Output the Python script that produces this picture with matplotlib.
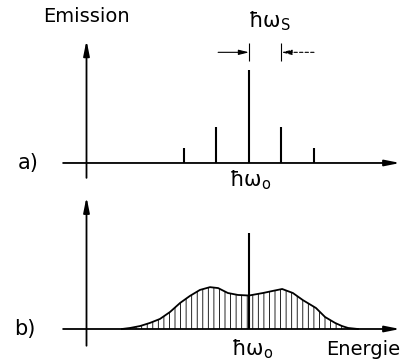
import matplotlib
matplotlib.use("Agg")
import matplotlib.pyplot as plt

plt.rcParams.update({
    "font.family": "DejaVu Sans",
    "mathtext.fontset": "dejavusans",
    "hatch.linewidth": 0.6,
    "hatch.color": "black",
})

# a) discrete emission lines, energy in units of hbar*omega_s relative to hbar*omega_0
line_pos = [-2, -1, 0, 1, 2]
line_height = [0.16, 0.39, 1.0, 0.39, 0.16]

# b) broadened band plus central line
band_e = [-3.91, -3.66, -3.35, -3.05, -2.74, -2.43, -2.12, -1.82, -1.51, -1.2,
          -0.95, -0.65, -0.34, 0.0, 0.43, 0.74, 1.02, 1.35, 1.66, 2.06, 2.34,
          2.65, 2.86, 3.05, 3.35]
band_i = [0.0, 0.011, 0.032, 0.065, 0.108, 0.183, 0.28, 0.355, 0.42, 0.45,
          0.44, 0.387, 0.366, 0.36, 0.387, 0.41, 0.43, 0.387, 0.31, 0.226, 0.129,
          0.065, 0.032, 0.011, 0.0]
center_height = 1.03

XLIM = (-249 / 32.5, 153 / 32.5)
YAX = -5.0

fig = plt.figure(figsize=(4.02, 3.63), dpi=100)
ax1 = fig.add_axes([0, 0.4904, 1, 0.5096])
ax2 = fig.add_axes([0, 0, 1, 0.4904])
ax1.set_xlim(*XLIM)
ax1.set_ylim(-0.2366, 1.7527)
ax2.set_xlim(*XLIM)
ax2.set_ylim(-0.3656, 1.5484)
for ax in (ax1, ax2):
    ax.axis("off")

arrow_kw = dict(arrowstyle="-|>,head_length=0.9,head_width=0.18", lw=1.3,
                color="black", shrinkA=0, shrinkB=0)

# axes with arrows
ax1.annotate("", xy=(YAX, 1.32), xytext=(YAX, -0.16), arrowprops=arrow_kw)
ax1.annotate("", xy=(4.65, 0), xytext=(-5.72, 0), arrowprops=arrow_kw)
ax2.annotate("", xy=(YAX, 1.42), xytext=(YAX, -0.18), arrowprops=arrow_kw)
ax2.annotate("", xy=(4.65, 0), xytext=(-5.72, 0), arrowprops=arrow_kw)

hw_s = r"$\mathregular{ħω_S}$"
hw_o = r"$\mathregular{ħω_o}$"

# panel a
ax1.vlines(line_pos, 0, line_height, color="black", lw=1.5)
ax1.vlines([0, 1], 1.10, 1.29, color="black", lw=0.8)
small_kw = dict(arrowstyle="-|>,head_length=0.6,head_width=0.15", lw=0.8,
                color="black", shrinkA=0, shrinkB=0)
ax1.annotate("", xy=(0, 1.19), xytext=(-0.95, 1.19), arrowprops=small_kw)
ax1.annotate("", xy=(1, 1.19), xytext=(2.0, 1.19),
             arrowprops=dict(small_kw, linestyle=(0, (3, 2))))
ax1.text(0.62, 1.52, hw_s, fontsize=15, ha="center", va="center")
ax1.text(0.05, -0.18, hw_o, fontsize=15, ha="center", va="center")
ax1.text(-5.0, 1.58, "Emission", fontsize=14, ha="center", va="center")
ax1.text(-6.8, 0.0, "a)", fontsize=15, ha="center", va="center")

# panel b
ax2.fill_between(band_e, 0, band_i, facecolor="none", edgecolor="black",
                 hatch="|||", lw=0)
ax2.plot(band_e, band_i, color="black", lw=1.3)
ax2.vlines([0], 0, center_height, color="black", lw=1.5)
ax2.text(0.1, -0.22, hw_o, fontsize=15, ha="center", va="center")
ax2.text(3.5, -0.22, "Energie", fontsize=14, ha="center", va="center")
ax2.text(-6.9, 0.0, "b)", fontsize=15, ha="center", va="center")

fig.savefig("out.png", dpi=100)
